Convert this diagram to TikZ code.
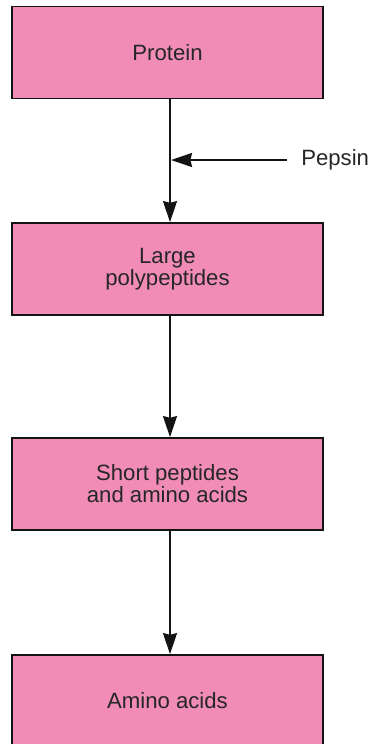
\documentclass[tikz,border=0pt]{standalone}
\usepackage{fontspec}
\setmainfont{Liberation Sans}
\usepackage{xcolor}
\usetikzlibrary{arrows.meta}
\definecolor{stagepink}{RGB}{240,140,182}
\definecolor{darkline}{RGB}{20,20,20}

\begin{document}
\begin{tikzpicture}[>={Stealth[length=12pt,width=8pt,inset=1pt]}, x=0.02cm, y=-0.02cm,
  stage/.style={draw=darkline, line width=1pt, fill=stagepink,
                minimum width=6.22cm, minimum height=1.84cm,
                font=\fontsize{12.6}{12.6}\selectfont, align=center, text=black!85}]
  \useasboundingbox (0,0) rectangle (371,744);
  \node[stage] (protein) at (167.5,52.5) {Protein};
  \node[stage] (large) at (167.5,269) {Large\\polypeptides};
  \node[stage] (short) at (167.5,484) {Short peptides\\and amino acids};
  \node[stage] (amino) at (167.5,701) {Amino acids};
  \coordinate (axis) at (170,0);
  \draw[->, darkline, line width=1pt] (axis |- protein.south) -- (axis |- large.north);
  \draw[->, darkline, line width=1pt] (axis |- large.south) -- (axis |- short.north);
  \draw[->, darkline, line width=1pt] (axis |- short.south) -- (axis |- amino.north);
  \node[anchor=west, font=\fontsize{12.6}{12.6}\selectfont, text=black!85, inner sep=0pt]
    (pepsin) at (301,160) {Pepsin};
  \coordinate (hit) at (171,160);
  \draw[->, darkline, line width=1pt] ([xshift=-8pt]pepsin.west) -- (hit);
\end{tikzpicture}
\end{document}
